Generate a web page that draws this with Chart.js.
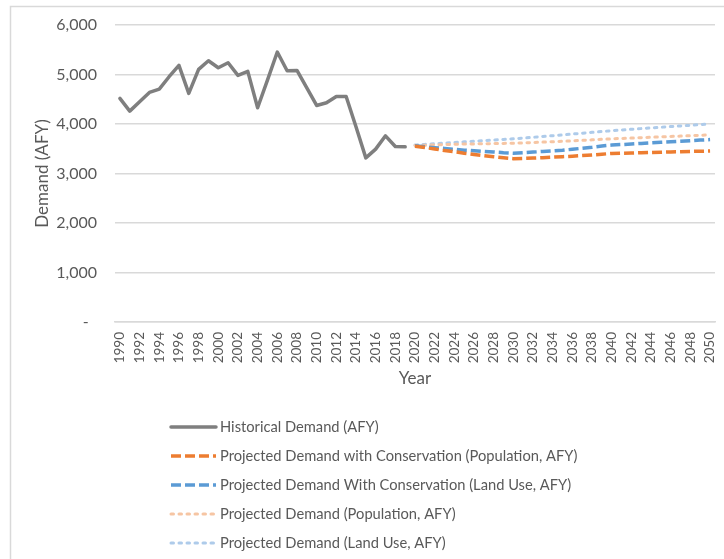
<!DOCTYPE html>
<html>
<head>
<meta charset="utf-8">
<script src="https://cdn.jsdelivr.net/npm/chart.js@4.4.1/dist/chart.umd.min.js"></script>
<style>
  html, body { margin: 0; padding: 0; background: #ffffff; }
  #wrap { position: relative; width: 724px; height: 559px; }
  canvas { display: block; }
</style>
</head>
<body>
<div id="wrap"><canvas id="c" width="724" height="559"></canvas></div>
<script>
// ---- data ----
const years = [];
for (let y = 1990; y <= 2050; y++) years.push(String(y));

const historicalYears = ['1990','1991','1992','1993','1994','1995','1996','1997','1998','1999','2000','2001','2002','2003','2004','2005','2006','2007','2008','2009','2010','2011','2012','2013','2014','2015','2016','2017','2018','2019'];
const historicalDemand = [4517, 4260, 4449, 4638, 4705, 4955, 5184, 4618, 5103, 5278, 5137, 5238, 4982, 5063, 4328, 4887, 5454, 5076, 5083, 4732, 4375, 4429, 4557, 4557, 3943, 3316, 3492, 3761, 3546, 3539];

const projectionYears = ['2020','2021','2022','2023','2024','2025','2026','2027','2028','2029','2030','2031','2032','2033','2034','2035','2036','2037','2038','2039','2040','2041','2042','2043','2044','2045','2046','2047','2048','2049','2050'];
const projConsPopulation = [3550, 3525, 3495, 3465, 3440, 3410, 3385, 3360, 3338, 3318, 3300, 3305, 3312, 3320, 3330, 3340, 3350, 3362, 3375, 3390, 3405, 3410, 3415, 3420, 3425, 3430, 3436, 3441, 3446, 3450, 3455];
const projConsLandUse   = [3560, 3540, 3522, 3505, 3490, 3472, 3460, 3448, 3435, 3420, 3410, 3420, 3432, 3445, 3456, 3470, 3490, 3510, 3530, 3555, 3575, 3585, 3596, 3608, 3620, 3630, 3640, 3650, 3664, 3675, 3685];
const projPopulation    = [3565, 3570, 3578, 3585, 3590, 3595, 3598, 3601, 3605, 3608, 3612, 3618, 3626, 3634, 3642, 3650, 3660, 3670, 3680, 3690, 3700, 3708, 3716, 3724, 3732, 3740, 3748, 3756, 3764, 3772, 3780];
const projLandUse       = [3575, 3588, 3601, 3614, 3627, 3640, 3652, 3664, 3676, 3688, 3700, 3716, 3732, 3748, 3764, 3780, 3797, 3814, 3831, 3848, 3865, 3879, 3893, 3907, 3921, 3935, 3948, 3961, 3974, 3987, 4000];

const yTicks = [0, 1000, 2000, 3000, 4000, 5000, 6000];
const seriesNames = [
  'Historical Demand (AFY)',
  'Projected Demand with Conservation (Population, AFY)',
  'Projected Demand With Conservation (Land Use, AFY)',
  'Projected Demand (Population, AFY)',
  'Projected Demand (Land Use, AFY)'
];

// align series onto the full year axis
function onAxis(subYears, values) {
  return years.map(y => { const i = subYears.indexOf(y); return i >= 0 ? values[i] : null; });
}

const TXT = '#595959';
const FONT = 'Lato, "Open Sans", sans-serif';

const legendPlugin = {
  id: 'vlegend',
  afterDraw(chart) {
    const ctx = chart.ctx;
    const x0 = 171, x1 = 216, tx = 220;
    const rows = [427, 456, 485, 514, 543];
    ctx.save();
    chart.data.datasets.forEach((ds, i) => {
      const y = rows[i];
      ctx.beginPath();
      ctx.strokeStyle = ds.borderColor;
      ctx.lineWidth = ds.borderWidth;
      ctx.setLineDash(ds.borderDash || []);
      ctx.lineCap = ds.borderCapStyle || 'butt';
      ctx.moveTo(x0, y); ctx.lineTo(x1, y);
      ctx.stroke();
      ctx.setLineDash([]);
      ctx.fillStyle = TXT;
      ctx.font = '14.7px ' + FONT;
      ctx.textBaseline = 'middle';
      ctx.textAlign = 'left';
      ctx.fillText(ds.label, tx, y);
    });
    ctx.restore();
  }
};

const framePlugin = {
  id: 'frame',
  beforeDraw(chart) {
    const ctx = chart.ctx;
    ctx.save();
    ctx.fillStyle = '#ffffff';
    ctx.fillRect(0, 0, chart.width, chart.height);
    ctx.strokeStyle = '#d9d9d9';
    ctx.lineWidth = 1.5;
    ctx.strokeRect(10.5, 6.5, 760, 600);
    ctx.restore();
  }
};

new Chart(document.getElementById('c'), {
  type: 'line',
  data: {
    labels: years,
    datasets: [
      { label: seriesNames[0], data: onAxis(historicalYears, historicalDemand), borderColor: '#7f7f7f', borderWidth: 3.5, pointRadius: 0, tension: 0, borderJoinStyle: 'round', borderCapStyle: 'round' },
      { label: seriesNames[1], data: onAxis(projectionYears, projConsPopulation), borderColor: '#ed7d31', borderWidth: 3.5, borderDash: [10, 4], pointRadius: 0, tension: 0 },
      { label: seriesNames[2], data: onAxis(projectionYears, projConsLandUse), borderColor: '#5b9bd5', borderWidth: 3.5, borderDash: [10, 4], pointRadius: 0, tension: 0 },
      { label: seriesNames[3], data: onAxis(projectionYears, projPopulation), borderColor: '#f6c5a3', borderWidth: 3, borderDash: [2.5, 5.5], borderCapStyle: 'round', pointRadius: 0, tension: 0 },
      { label: seriesNames[4], data: onAxis(projectionYears, projLandUse), borderColor: '#aecbea', borderWidth: 3, borderDash: [2.5, 5.5], borderCapStyle: 'round', pointRadius: 0, tension: 0 }
    ]
  },
  options: {
    responsive: false,
    animation: false,
    spanGaps: false,
    layout: { padding: { left: 10, top: 25, right: 9, bottom: 164 } },
    plugins: { legend: { display: false }, tooltip: { enabled: false } },
    scales: {
      x: {
        type: 'category',
        offset: true,
        grid: { display: false, drawTicks: false },
        border: { display: true, color: '#d9d9d9', width: 1.5 },
        ticks: {
          autoSkip: false, minRotation: 90, maxRotation: 90, padding: 10,
          color: TXT, font: { family: FONT, size: 13.5 },
          callback: function(v, i) { return i % 2 === 0 ? this.getLabelForValue(v) : ''; }
        },
        title: { display: true, text: 'Year', color: TXT, font: { family: FONT, size: 17 }, padding: { top: 0, bottom: 6 } },
        afterFit: s => { s.height = 73; s.paddingLeft = 0; s.paddingRight = 0; }
      },
      y: {
        min: 0, max: 6000,
        afterBuildTicks: s => { s.ticks = yTicks.map(v => ({ value: v })); },
        grid: { color: '#d9d9d9', lineWidth: 1.5, drawTicks: false },
        border: { display: false },
        ticks: {
          padding: 18, color: TXT, font: { family: FONT, size: 16 },
          callback: v => v === 0 ? '-  ' : v.toLocaleString('en-US')
        },
        title: { display: true, text: 'Demand (AFY)', color: TXT, font: { family: FONT, size: 17 }, padding: { top: 22, bottom: 0 } },
        afterFit: s => { s.width = 105; s.paddingTop = 0; s.paddingBottom = 0; }
      }
    }
  },
  plugins: [framePlugin, legendPlugin]
});
</script>
</body>
</html>
